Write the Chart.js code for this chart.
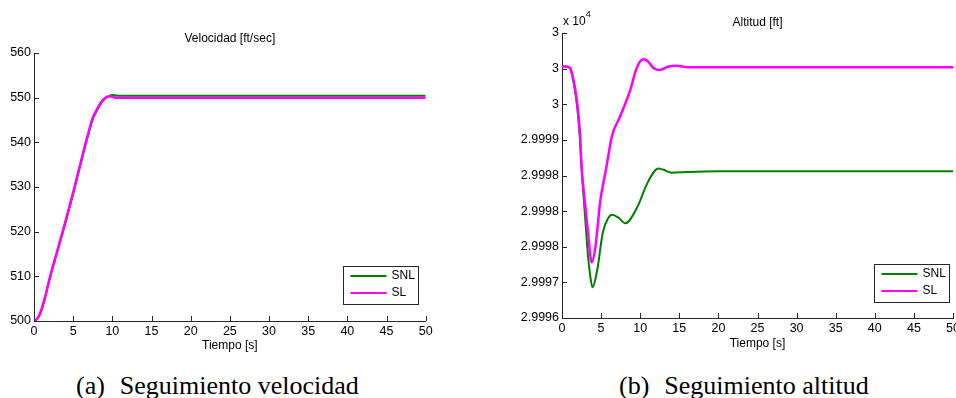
<!DOCTYPE html>
<html>
<head>
<meta charset="utf-8">
<script src="https://cdn.jsdelivr.net/npm/chart.js@4.4.0/dist/chart.umd.min.js"></script>
<style>
  html, body { margin: 0; padding: 0; background: #fff; overflow: hidden; width: 956px; height: 398px; }
  canvas { position: absolute; top: 0; }
  .cap { position: absolute; top: 373px; font-family: 'Liberation Serif', 'Times New Roman', serif;
         font-size: 26px; line-height: 26px; color: #000; white-space: nowrap; }
</style>
</head>
<body>
<canvas id="velChart" width="478" height="360" style="left:0"></canvas>
<canvas id="altChart" width="500" height="360" style="left:478px"></canvas>
<div class="cap" style="left:76px">(a)<span style="margin-left:15px">Seguimiento velocidad</span></div>
<div class="cap" style="left:619px">(b)<span style="margin-left:15px">Seguimiento altitud</span></div>
<script>
// Velocidad [ft/sec]
const velTime = [0, 0.5, 1, 1.5, 2, 3, 4, 5, 6, 7, 7.5, 8, 8.5, 9, 9.5, 10, 10.5, 11, 12, 50];
const velSL   = [500, 500.7, 502.8, 506.0, 509.6, 515.9, 522.2, 528.8, 535.8, 542.5, 545.5, 547.3, 548.8, 549.8, 550.3, 550.2, 550.0, 550.0, 550.0, 550.0];
const velSNL  = [500, 500.7, 502.7, 505.8, 509.4, 515.6, 521.9, 528.5, 535.5, 542.2, 545.2, 547.0, 548.6, 549.7, 550.3, 550.6, 550.5, 550.45, 550.45, 550.45];

// Altitud [ft]
const altTimeSL = [0, 0.5, 1.0, 1.45, 1.9, 2.3, 2.5, 2.9, 3.3, 3.8, 4.3, 4.9, 5.6, 6.4, 7.4, 8.7, 9.55, 10.4, 11.0, 11.7, 12.5, 13.6, 14.7, 16, 20, 50];
const altSL     = [29999.53, 29999.53, 29999.51, 29999.35, 29999.05, 29998.59, 29998.12, 29997.65, 29997.23, 29996.78, 29997.02, 29997.65, 29998.07, 29998.56, 29998.82, 29999.19, 29999.51, 29999.63, 29999.60, 29999.51, 29999.48, 29999.53, 29999.54, 29999.52, 29999.52, 29999.52];
const altTimeSNL = [0, 0.5, 1.0, 1.45, 1.9, 2.3, 2.6, 3.0, 3.3, 3.6, 3.9, 4.5, 5.2, 5.9, 6.4, 7.2, 8.1, 9.6, 10.9, 11.9, 12.3, 13.0, 14.0, 16, 20, 50];
const altSNL     = [29999.53, 29999.53, 29999.51, 29999.33, 29999.0, 29998.5, 29997.95, 29997.35, 29996.9, 29996.6, 29996.43, 29996.67, 29997.19, 29997.40, 29997.45, 29997.41, 29997.33, 29997.55, 29997.89, 29998.07, 29998.10, 29998.08, 29998.04, 29998.05, 29998.06, 29998.06];

// axis tick labels (bottom to top), as printed on the original
const altTickLabels = ['2.9996', '2.9997', '2.9998', '2.9998', '2.9998', '2.9999', '3', '3', '3'];
const seriesLabels = ['SNL', 'SL'];
const seriesColors = ['#008000', '#ff00ff'];

const axisColor = '#262626';
const sans = "'Liberation Sans', Arial, sans-serif";

function toPoints(xs, ys) {
    return xs.map((x, i) => ({ x: x, y: ys[i] }));
}

// MATLAB style tick marks pointing into the plot
const insideTicks = {
    id: 'insideTicks',
    afterDatasetsDraw(chart) {
        const ctx = chart.ctx, x = chart.scales.x, y = chart.scales.y;
        ctx.save();
        ctx.strokeStyle = axisColor;
        ctx.lineWidth = 1;
        ctx.beginPath();
        x.ticks.forEach((t, i) => {
            const px = Math.round(x.getPixelForTick(i)) + 0.5;
            ctx.moveTo(px, y.bottom);
            ctx.lineTo(px, y.bottom - 5);
        });
        y.ticks.forEach((t, i) => {
            const py = Math.round(y.getPixelForTick(i)) + 0.5;
            ctx.moveTo(x.left, py);
            ctx.lineTo(x.left + 5, py);
        });
        ctx.stroke();
        ctx.restore();
    }
};

// boxed legend in the lower right corner of the plot
const boxLegend = {
    id: 'boxLegend',
    afterDraw(chart, args, opts) {
        const ctx = chart.ctx, area = chart.chartArea;
        const w = 75, h = 38;
        const left = Math.round(area.right - opts.right - w) + 0.5;
        const top = Math.round(area.bottom - opts.bottom - h) + 0.5;
        ctx.save();
        ctx.fillStyle = '#fff';
        ctx.fillRect(left, top, w, h);
        ctx.strokeStyle = axisColor;
        ctx.lineWidth = 1;
        ctx.strokeRect(left, top, w, h);
        ctx.font = '12px ' + sans;
        ctx.textBaseline = 'middle';
        chart.data.datasets.forEach((ds, i) => {
            const yy = top + 9.5 + i * 17;
            ctx.strokeStyle = ds.borderColor;
            ctx.lineWidth = 2;
            ctx.beginPath();
            ctx.moveTo(left + 7, yy);
            ctx.lineTo(left + 43, yy);
            ctx.stroke();
            ctx.fillStyle = '#000';
            ctx.fillText(ds.label, left + 48, yy);
        });
        ctx.restore();
    }
};

// "x 10^4" multiplier above the altitude axis
const expLabel = {
    id: 'expLabel',
    afterDraw(chart, args, opts) {
        if (!opts.show) return;
        const ctx = chart.ctx, area = chart.chartArea;
        ctx.save();
        ctx.fillStyle = '#000';
        ctx.textBaseline = 'middle';
        ctx.font = '12px ' + sans;
        ctx.fillText('x 10', area.left + 1, 22);
        const w = ctx.measureText('x 10').width;
        ctx.font = '9px ' + sans;
        ctx.fillText('4', area.left + 1 + w, 15);
        ctx.restore();
    }
};

function makeOptions(cfg) {
    return {
        responsive: false,
        animation: false,
        layout: { padding: { left: 0, right: cfg.padRight, top: 0, bottom: 0 } },
        elements: { point: { radius: 0 } },
        plugins: {
            legend: { display: false },
            tooltip: { enabled: false },
            title: {
                display: true,
                text: cfg.title,
                fullSize: false,
                color: '#000',
                font: { family: sans, size: 12, weight: 'normal' },
                padding: { top: cfg.titleTop, bottom: cfg.titleBottom }
            },
            boxLegend: cfg.legend,
            expLabel: { show: cfg.exp }
        },
        scales: {
            x: {
                type: 'linear',
                min: 0, max: 50,
                grid: { display: false, drawTicks: false },
                border: { display: true, color: axisColor },
                ticks: { stepSize: 5, color: '#000', padding: cfg.xTickPad, maxRotation: 0, font: { family: sans, size: 12.5 } },
                title: {
                    display: true, text: 'Tiempo [s]', color: '#000',
                    font: { family: sans, size: 12 },
                    padding: { top: 0, bottom: cfg.xTitleBottom }
                },
                afterFit: s => { s.height = cfg.xHeight; }
            },
            y: {
                min: cfg.yMin, max: cfg.yMax,
                grid: { display: false, drawTicks: false },
                border: { display: true, color: axisColor },
                ticks: {
                    stepSize: cfg.yStep, color: '#000', padding: 3,
                    font: { family: sans, size: 12.5 },
                    callback: cfg.yCallback
                },
                afterFit: s => { s.width = cfg.yWidth; }
            }
        }
    };
}

function makeDatasets(snl, sl) {
    return [
        { label: seriesLabels[0], data: snl, borderColor: seriesColors[0], borderWidth: 2,
          cubicInterpolationMode: 'monotone', order: 1 },
        { label: seriesLabels[1], data: sl, borderColor: seriesColors[1], borderWidth: 2.5,
          cubicInterpolationMode: 'monotone', order: 0 }
    ];
}

new Chart(document.getElementById('velChart').getContext('2d'), {
    type: 'line',
    data: { datasets: makeDatasets(toPoints(velTime, velSNL), toPoints(velTime, velSL)) },
    options: makeOptions({
        title: 'Velocidad [ft/sec]', titleTop: 31, titleBottom: 7.6,
        padRight: 52.3, yWidth: 34, xHeight: 39, xTitleBottom: 7.4, xTickPad: 3,
        yMin: 500, yMax: 560, yStep: 10, yCallback: v => v,
        legend: { right: 7.7, bottom: 17 }, exp: false
    }),
    plugins: [insideTicks, boxLegend, expLabel]
});

new Chart(document.getElementById('altChart').getContext('2d'), {
    type: 'line',
    data: { datasets: makeDatasets(toPoints(altTimeSNL, altSNL), toPoints(altTimeSL, altSL)) },
    options: makeOptions({
        title: 'Altitud [ft]', titleTop: 15, titleBottom: 3.6,
        padRight: 25, yWidth: 84, xHeight: 42, xTitleBottom: 9.4, xTickPad: 3,
        yMin: 29996, yMax: 30000, yStep: 0.5, yCallback: (v, i) => altTickLabels[i],
        legend: { right: 3.7, bottom: 15.7 }, exp: true
    }),
    plugins: [insideTicks, boxLegend, expLabel]
});
</script>
</body>
</html>
